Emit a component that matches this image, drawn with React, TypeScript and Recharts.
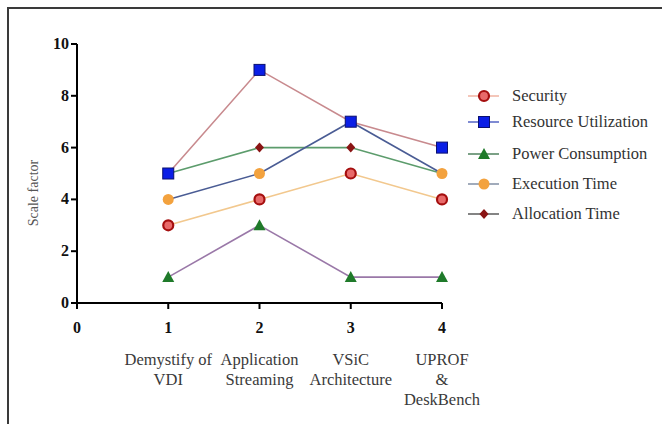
import React from "react";
import { LineChart, Line, XAxis, YAxis } from "recharts";

const xValues = [1, 2, 3, 4];
const xTicks = [0, 1, 2, 3, 4];
const categoryLabels: string[][] = [
  [],
  ["Demystify of", "VDI"],
  ["Application", "Streaming"],
  ["VSiC", "Architecture"],
  ["UPROF", "&", "DeskBench"],
];
const yTicks = [0, 2, 4, 6, 8, 10];

const security = [3, 4, 5, 4];
const resourceUtilization = [5, 9, 7, 6];
const powerConsumption = [1, 3, 1, 1];
const executionTime = [4, 5, 7, 5];
const allocationTime = [5, 6, 6, 5];

const data = xValues.map((x, i) => ({
  x,
  security: security[i],
  resource: resourceUtilization[i],
  power: powerConsumption[i],
  execution: executionTime[i],
  allocation: allocationTime[i],
}));

const FONT = "'Liberation Serif', 'Times New Roman', serif";

const RedCircle = (p: any) => (
  <circle key={`rc${p.index}`} cx={p.cx} cy={p.cy} r={5} fill="#e86a6a" stroke="#a50f0f" strokeWidth={2.2} />
);
const BlueSquare = (p: any) => (
  <rect key={`bs${p.index}`} x={p.cx - 5.5} y={p.cy - 5.5} width={11} height={11} fill="#0a1ee6" stroke="#0a1070" strokeWidth={1} />
);
const GreenTri = (p: any) => (
  <polygon key={`gt${p.index}`} points={`${p.cx},${p.cy - 6} ${p.cx + 6},${p.cy + 5} ${p.cx - 6},${p.cy + 5}`} fill="#1f7a2a" />
);
const OrangeCircle = (p: any) => (
  <circle key={`oc${p.index}`} cx={p.cx} cy={p.cy} r={5.5} fill="#f3a23e" />
);
const Diamond = (p: any) => (
  <polygon key={`dm${p.index}`} points={`${p.cx},${p.cy - 5} ${p.cx + 4.5},${p.cy} ${p.cx},${p.cy + 5} ${p.cx - 4.5},${p.cy}`} fill="#8a1414" />
);

const XTick = (props: any) => {
  const { x, y, payload } = props;
  const lines = categoryLabels[payload.value] || [];
  return (
    <g>
      <text x={x} y={y + 22} textAnchor="middle" style={{ fontFamily: FONT, fontWeight: "bold", fontSize: 16 }} fill="#111">
        {payload.value}
      </text>
      {lines.map((l, i) => (
        <text key={i} x={x} y={y + 54 + i * 20} textAnchor="middle" style={{ fontFamily: FONT, fontSize: 16.5 }} fill="#3a3a3a">
          {l}
        </text>
      ))}
    </g>
  );
};

const YTick = (props: any) => {
  const { x, y, payload } = props;
  return (
    <text x={x} y={y + 5} textAnchor="end" style={{ fontFamily: FONT, fontWeight: "bold", fontSize: 16 }} fill="#111">
      {payload.value}
    </text>
  );
};

const legendItems = [
  { name: "Security", line: "#f2b8a8", Marker: RedCircle },
  { name: "Resource Utilization", line: "#5f6fc8", Marker: BlueSquare },
  { name: "Power Consumption", line: "#5a8a68", Marker: GreenTri },
  { name: "Execution Time", line: "#8a96aa", Marker: OrangeCircle },
  { name: "Allocation Time", line: "#666", Marker: Diamond },
];
const legendY = [96, 122, 154, 184, 214];

export default function App() {
  return (
    <div style={{ position: "absolute", left: 0, top: 0, width: 662, height: 424, background: "#fff", overflow: "hidden" }}>
      <div
        style={{
          position: "absolute",
          left: 7,
          top: 7,
          width: 700,
          height: 500,
          borderLeft: "2px solid #3a3a3a",
          borderTop: "2px solid #3a3a3a",
        }}
      />
      <div style={{ position: "absolute", left: 0, top: 0 }}>
        <LineChart width={662} height={424} data={data} margin={{ top: 44, right: 220, bottom: 0, left: 17 }}>
          <XAxis
            dataKey="x"
            type="number"
            domain={[0, 4]}
            ticks={xTicks}
            interval={0}
            height={121}
            stroke="#000"
            strokeWidth={2}
            tickSize={6}
            tickLine={{ stroke: "#000", strokeWidth: 2 }}
            tick={<XTick />}
          />
          <YAxis
            type="number"
            domain={[0, 10]}
            ticks={yTicks}
            interval={0}
            width={60}
            stroke="#000"
            strokeWidth={2}
            tickSize={6}
            tickLine={{ stroke: "#000", strokeWidth: 2 }}
            tick={<YTick />}
          />
          <Line dataKey="power" stroke="#9a78a8" strokeWidth={1.6} dot={GreenTri} isAnimationActive={false} />
          <Line dataKey="security" stroke="#f2c88e" strokeWidth={1.6} dot={RedCircle} isAnimationActive={false} />
          <Line dataKey="allocation" stroke="#5c9c6c" strokeWidth={1.6} dot={Diamond} isAnimationActive={false} />
          <Line dataKey="execution" stroke="#4a5c94" strokeWidth={1.6} dot={OrangeCircle} isAnimationActive={false} />
          <Line dataKey="resource" stroke="#c88a8e" strokeWidth={1.6} dot={BlueSquare} isAnimationActive={false} />
        </LineChart>
      </div>
      <svg style={{ position: "absolute", left: 0, top: 0 }} width={662} height={424}>
        <text
          x={0}
          y={0}
          transform="translate(38,193) rotate(-90)"
          textAnchor="middle"
          style={{ fontFamily: FONT, fontSize: 14 }}
          fill="#555"
        >
          Scale factor
        </text>
        {legendItems.map((it, i) => {
          const cy = legendY[i];
          const M = it.Marker;
          return (
            <g key={it.name}>
              <line x1={468} x2={499} y1={cy} y2={cy} stroke={it.line} strokeWidth={1.6} />
              <M cx={484} cy={cy} index={i} />
              <text x={512} y={cy + 5} style={{ fontFamily: FONT, fontSize: 16.5 }} fill="#333">
                {it.name}
              </text>
            </g>
          );
        })}
      </svg>
    </div>
  );
}
